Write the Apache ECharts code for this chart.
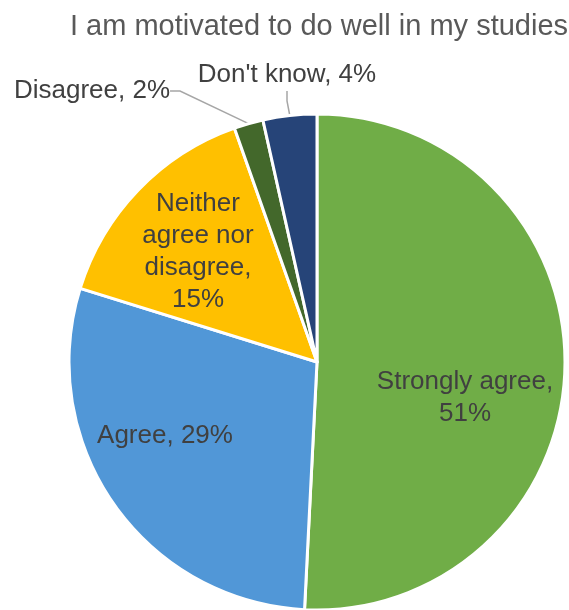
<!DOCTYPE html>
<html><head><meta charset="utf-8">
<script src="https://cdn.jsdelivr.net/npm/echarts@6/dist/echarts.min.js"></script>
<style>html,body{margin:0;padding:0;background:#fff}#c{width:569px;height:610px}</style>
</head><body><div id="c"></div>
<script>
var categories = ['Strongly agree', 'Agree', 'Neither agree nor disagree', "Disagree", "Don't know"];
var values = [50.8, 29.0, 14.8, 1.9, 3.5];
var percentLabels = ['51%', '29%', '15%', '2%', '4%'];
var labelTexts = ['Strongly agree,\n51%', 'Agree, 29%', 'Neither\nagree nor\ndisagree,\n15%', 'Disagree, 2%', "Don't know, 4%"];
var colors = ['#70AD47', '#5197D7', '#FFC000', '#43682B', '#264478'];

var chart = echarts.init(document.getElementById('c'));
var outside = [false, false, false, true, true];
var data = categories.map(function (c, i) {
  return {
    name: c, value: values[i],
    itemStyle: { color: colors[i] },
    label: { show: true, position: outside[i] ? 'outside' : 'inside', formatter: labelTexts[i] },
    labelLine: { show: outside[i] }
  };
});
var layoutPos = {
  0: { x: 465, y: 398 },
  1: { x: 165, y: 436 },
  2: { x: 198, y: 252 },
  3: { x: 92, y: 91 },
  4: { x: 287, y: 75 }
};
chart.setOption({
  animation: false,
  title: {
    text: 'I am motivated to do well in my studies',
    left: 314, top: 7, textAlign: 'center',
    textStyle: { fontFamily: 'Liberation Sans', fontSize: 29, fontWeight: 'normal', color: '#595959' }
  },
  series: [{
    type: 'pie',
    center: [317, 362],
    radius: [0, 248],
    startAngle: 90,
    clockwise: true,
    data: data,
    itemStyle: { borderColor: '#fff', borderWidth: 3 },
    label: {
      fontFamily: 'Liberation Sans', fontSize: 26, color: '#404040', lineHeight: 32, align: 'center'
    },
    labelLine: { lineStyle: { color: '#A6A6A6', width: 1.5 }, length: 20, length2: 10, smooth: false },
    labelLayout: function (p) {
      var pos = layoutPos[p.dataIndex];
      return { x: pos.x, y: pos.y, align: 'center', verticalAlign: 'middle' };
    }
  }]
});
</script></body></html>
